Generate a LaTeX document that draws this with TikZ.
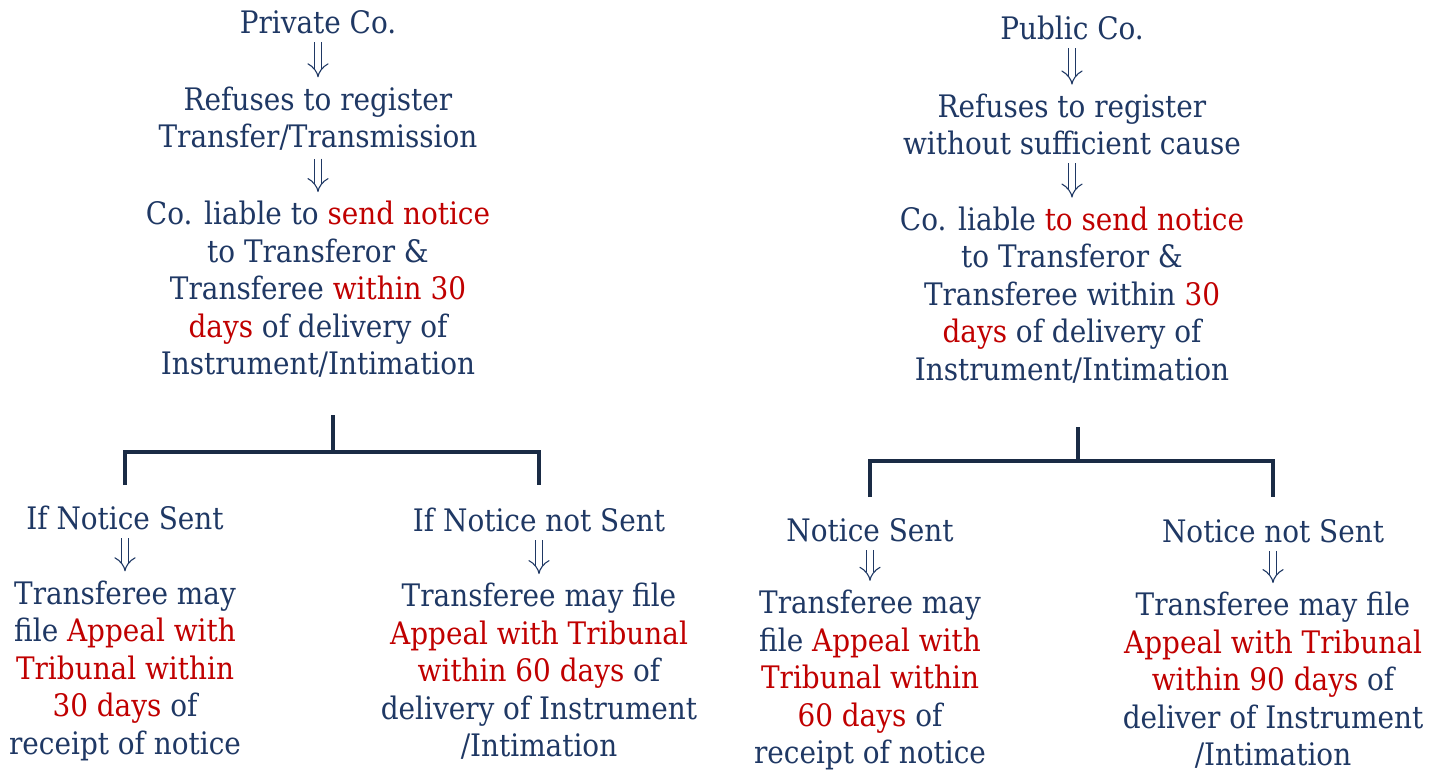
\documentclass[tikz,border=0pt]{standalone}
\usepackage{fontspec}
\setmainfont{DejaVu Serif Condensed}
\usetikzlibrary{arrows.meta,positioning}

\definecolor{navy}{HTML}{1F3864}
\definecolor{keyred}{HTML}{C00000}
\definecolor{barcol}{HTML}{1A2B45}
\newcommand{\keyterm}[1]{\textcolor{keyred}{#1}}

\begin{document}
\begin{tikzpicture}[
    x=1pt, y=-1pt,
    txt/.style={align=center, inner sep=0pt, text=navy, font=\fontsize{31}{37.5}\selectfont},
    imp/.style={draw=navy, line width=1.1pt, double=white, double distance=6.5pt, -{Implies[length=9pt,width=19pt]}, shorten <=8pt, shorten >=9pt},
    bracket/.style={draw=barcol, line width=4.5pt}
]
\useasboundingbox (0,0) rectangle (1444,773);

% private company
\node[txt] (pvt) at (318,22) {Private Co.};
\node[txt] (ref1) at (318,118.5) {Refuses to register\\Transfer/Transmission};
\node[txt] (liab1) at (318,289.5) {Co. liable to \keyterm{send notice}\\to Transferor \&\\Transferee \keyterm{within 30}\\\keyterm{days} of delivery of\\Instrument/Intimation};
\draw[imp] (pvt) -- (ref1);
\draw[imp] (ref1) -- (liab1);

\node[txt] (ns1) at (125,518) {If Notice Sent};
\node[txt] (app1) at (125,670.5) {Transferee may\\file \keyterm{Appeal with}\\\keyterm{Tribunal within}\\\keyterm{30 days} of\\receipt of notice};
\node[txt] (nns1) at (539,520) {If Notice not Sent};
\node[txt] (app2) at (539,671.5) {Transferee may file\\\keyterm{Appeal with Tribunal}\\\keyterm{within 60 days} of\\delivery of Instrument\\/Intimation};
\draw[imp] (ns1) -- (app1);
\draw[imp] (nns1) -- (app2);

\coordinate (stem1) at (333,415);
\coordinate (bar1) at (333,452);
\coordinate (leg1l) at (125,485);
\coordinate (leg1r) at (539,485);
\draw[bracket] (stem1) -- (bar1);
\draw[bracket] (leg1l) |- (bar1) -| (leg1r);

% public company
\node[txt] (pub) at (1072,28) {Public Co.};
\node[txt] (ref2) at (1072,124.5) {Refuses to register\\without sufficient cause};
\node[txt] (liab2) at (1072,295) {Co. liable \keyterm{to send notice}\\to Transferor \&\\Transferee within \keyterm{30}\\\keyterm{days} of delivery of\\Instrument/Intimation};
\draw[imp] (pub) -- (ref2);
\draw[imp] (ref2) -- (liab2);

\node[txt] (ns2) at (870,530) {Notice Sent};
\node[txt] (app3) at (870,680) {Transferee may\\file \keyterm{Appeal with}\\\keyterm{Tribunal within}\\\keyterm{60 days} of\\receipt of notice};
\node[txt] (nns2) at (1273,531) {Notice not Sent};
\node[txt] (app4) at (1273,680.5) {Transferee may file\\\keyterm{Appeal with Tribunal}\\\keyterm{within 90 days} of\\deliver of Instrument\\/Intimation};
\draw[imp] (ns2) -- (app3);
\draw[imp] (nns2) -- (app4);

\coordinate (stem2) at (1078,427);
\coordinate (bar2) at (1078,461);
\coordinate (leg2l) at (870,497);
\coordinate (leg2r) at (1273,497);
\draw[bracket] (stem2) -- (bar2);
\draw[bracket] (leg2l) |- (bar2) -| (leg2r);
\end{tikzpicture}
\end{document}
